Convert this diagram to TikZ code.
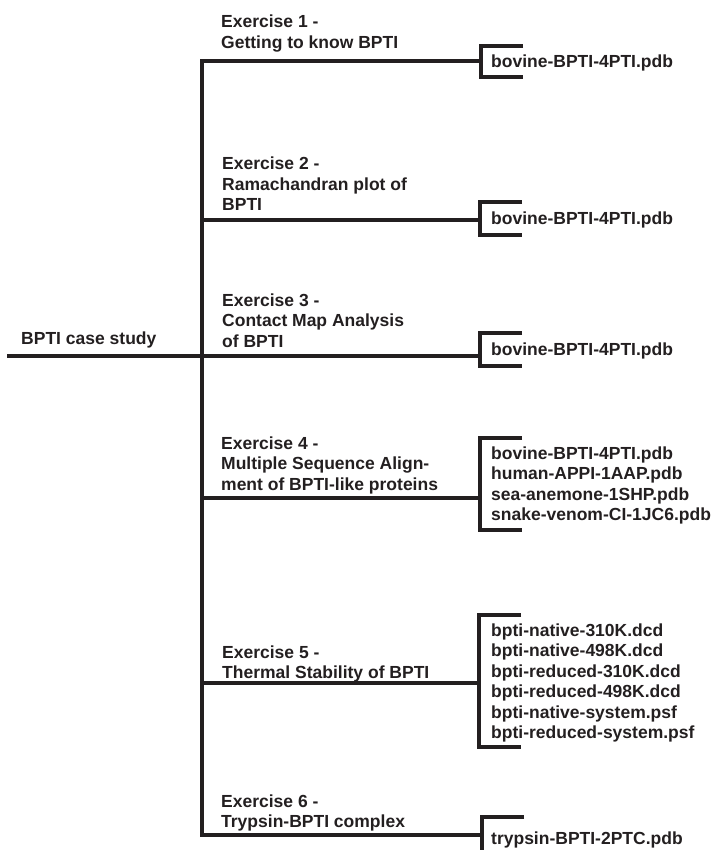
\documentclass[tikz,border=0pt]{standalone}
\usepackage{fontspec}
\setmainfont{Liberation Sans}
\definecolor{ink}{RGB}{35,31,32}
\begin{document}
\begin{tikzpicture}[x=1pt,y=-1pt,
  lbl/.style={anchor=base west,inner sep=0pt,align=left,
    font=\bfseries\fontsize{17.5}{20.5}\selectfont,text=ink},
  wire/.style={draw=ink,line width=3.1pt,line join=miter}]
\useasboundingbox (0,0) rectangle (712,850);

% nodes (base anchor = baseline of the last line)
\node[lbl] (root) at (21,344) {BPTI case study};
\node[lbl] (e1) at (221,48.5) {Exercise 1 -\\Getting to know BPTI};
\node[lbl] (e2) at (222,211) {Exercise 2 -\\Ramachandran plot of\\BPTI};
\node[lbl] (e3) at (222,347) {Exercise 3 -\\Contact Map Analysis\\of BPTI};
\node[lbl] (e4) at (221,490) {Exercise 4 -\\Multiple Sequence Align-\\ment of BPTI-like proteins};
\node[lbl] (e5) at (222,678.5) {Exercise 5 -\\Thermal Stability of BPTI};
\node[lbl] (e6) at (221,827.5) {Exercise 6 -\\Trypsin-BPTI complex};

\node[lbl] (f1) at (491,68) {bovine-BPTI-4PTI.pdb};
\node[lbl] (f2) at (491,225) {bovine-BPTI-4PTI.pdb};
\node[lbl] (f3) at (491,355) {bovine-BPTI-4PTI.pdb};
\node[lbl] (f4) at (491,520.5) {bovine-BPTI-4PTI.pdb\\human-APPI-1AAP.pdb\\sea-anemone-1SHP.pdb\\snake-venom-CI-1JC6.pdb};
\node[lbl] (f5) at (491,738.5) {bpti-native-310K.dcd\\bpti-native-498K.dcd\\bpti-reduced-310K.dcd\\bpti-reduced-498K.dcd\\bpti-native-system.psf\\bpti-reduced-system.psf};
\node[lbl] (f6) at (491,844) {trypsin-BPTI-2PTC.pdb};

% junction coordinates
\coordinate (rootL) at (7,356);
\coordinate (t1) at (202,61);
\coordinate (t2) at (202,220);
\coordinate (t3) at (202,356);
\coordinate (t4) at (202,498);
\coordinate (t5) at (202,683);
\coordinate (t6) at (202,835);
\coordinate (b1) at (481,61);
\coordinate (b2) at (480,220);
\coordinate (b3) at (480,356);
\coordinate (b4) at (480,498);
\coordinate (b5) at (479,683);
\coordinate (b6) at (482,835);

% connectors
\draw[wire] (b1) -- (t1) -- (t6) -- (b6);
\draw[wire] (rootL) -- (t3) -- (b3);
\draw[wire] (t2) -- (b2);
\draw[wire] (t4) -- (b4);
\draw[wire] (t5) -- (b5);

% brackets
\draw[wire] (523,46) -- (b1 |- 0,46) -- (b1 |- 0,77) -- (523,77);
\draw[wire] (522,202) -- (b2 |- 0,202) -- (b2 |- 0,235) -- (522,235);
\draw[wire] (522,333) -- (b3 |- 0,333) -- (b3 |- 0,366) -- (522,366);
\draw[wire] (522,438) -- (b4 |- 0,438) -- (b4 |- 0,530) -- (522,530);
\draw[wire] (521,615) -- (b5 |- 0,615) -- (b5 |- 0,747) -- (521,747);
\draw[wire] (524,817) -- (b6 |- 0,817) -- (b6 |- 0,852);
\end{tikzpicture}
\end{document}
